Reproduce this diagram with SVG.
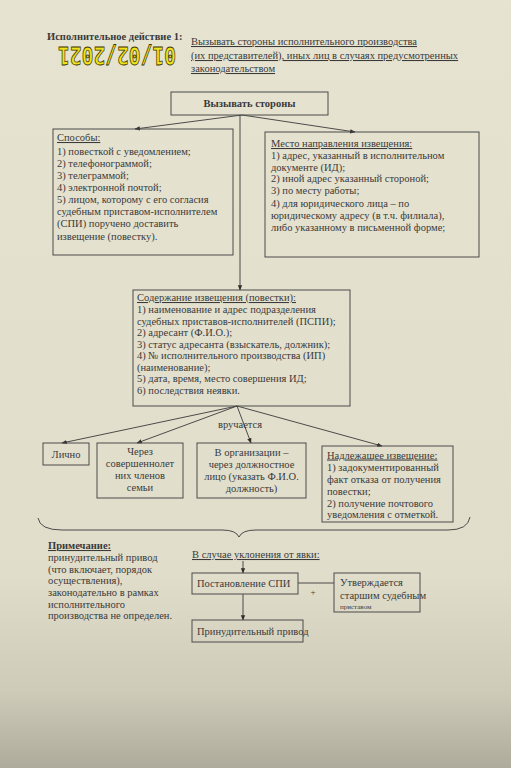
<svg xmlns="http://www.w3.org/2000/svg" width="511" height="768" viewBox="0 0 511 768">
<defs>
<linearGradient id="bg" x1="0" y1="0" x2="0" y2="1">
<stop offset="0" stop-color="#e6e3d1"/>
<stop offset="0.75" stop-color="#e1ddcb"/>
<stop offset="0.9" stop-color="#cfcbb9"/>
<stop offset="1" stop-color="#aeab9c"/>
</linearGradient>
<marker id="ah" viewBox="0 0 10 10" refX="9" refY="5" markerWidth="6" markerHeight="6" orient="auto-start-reverse">
<path d="M0,1 L10,5 L0,9 z" fill="#2e2e2e"/>
</marker>
<style>
.t{font-family:"Liberation Serif","Times New Roman",serif;font-size:10.5px;fill:#3a3a3a}
.b{font-weight:bold}
.u{text-decoration:underline}
.c{text-anchor:middle}
.box{fill:none;stroke:#4a4a4a;stroke-width:1}
.ln{fill:none;stroke:#3a3a3a;stroke-width:0.9}
</style>
</defs>
<rect x="0" y="0" width="511" height="768" fill="url(#bg)"/>

<g id="header">
<text class="t b" x="47" y="40">Исполнительное действие 1:</text>
<text class="t u" x="191" y="45">Вызывать стороны исполнительного производства</text>
<text class="t u" x="191" y="59">(их представителей), иных лиц в случаях предусмотренных</text>
<text class="t u" x="191" y="72">законодательством</text>
</g>

<g id="datestamp">
<text x="117" y="63" transform="rotate(180 117 55)" text-anchor="middle" textLength="118" lengthAdjust="spacingAndGlyphs" style="font-family:'DejaVu Sans Mono',monospace;font-size:24px;font-weight:bold;fill:#f0e21c;stroke:#3d3500;stroke-width:0.8">01/02/2021</text>
</g>

<g id="connectors">
<line class="ln" x1="242" y1="115" x2="135" y2="129" marker-end="url(#ah)"/>
<line class="ln" x1="242" y1="115" x2="355" y2="132" marker-end="url(#ah)"/>
<line class="ln" x1="240" y1="115" x2="240" y2="290" marker-end="url(#ah)"/>
<line class="ln" x1="237" y1="406" x2="62" y2="443" marker-end="url(#ah)"/>
<line class="ln" x1="237" y1="406" x2="137" y2="443" marker-end="url(#ah)"/>
<line class="ln" x1="237" y1="406" x2="251" y2="443" marker-end="url(#ah)"/>
<line class="ln" x1="237" y1="406" x2="382" y2="446" marker-end="url(#ah)"/>
<line class="ln" x1="243" y1="561" x2="243" y2="573" marker-end="url(#ah)"/>
<line class="ln" x1="243" y1="594" x2="243" y2="620" marker-end="url(#ah)"/>
<line class="ln" x1="298" y1="583" x2="334" y2="583"/>
<path class="ln" d="M38,518 Q40,530 62,530 L222,530 Q236,530 239,537 Q242,530 256,530 L448,530 Q468,530 470,517"/>
<text class="t c" x="240" y="428">вручается</text>
<text class="t c" x="313" y="595" style="font-size:9px">+</text>
</g>

<g id="n-call">
<rect class="box" x="171" y="92" width="157" height="23"/>
<text class="t b c" x="249.5" y="107">Вызывать стороны</text>
</g>

<g id="n-ways">
<rect class="box" x="53" y="129" width="180" height="126"/>
<text class="t u" x="57" y="141">Способы:</text>
<text class="t" x="57" y="155">1) повесткой с уведомлением;</text>
<text class="t" x="57" y="167">2) телефонограммой;</text>
<text class="t" x="57" y="179">3) телеграммой;</text>
<text class="t" x="57" y="191">4) электронной почтой;</text>
<text class="t" x="57" y="203">5) лицом, которому с его согласия</text>
<text class="t" x="57" y="215">судебным приставом-исполнителем</text>
<text class="t" x="57" y="227">(СПИ) поручено доставить</text>
<text class="t" x="57" y="240">извещение (повестку).</text>
</g>

<g id="n-place">
<rect class="box" x="265" y="132" width="214" height="125"/>
<text class="t u" x="271" y="147">Место направления извещения:</text>
<text class="t" x="271" y="159">1) адрес, указанный в исполнительном</text>
<text class="t" x="271" y="171">документе (ИД);</text>
<text class="t" x="271" y="182">2) иной адрес указанный стороной;</text>
<text class="t" x="271" y="194">3) по месту работы;</text>
<text class="t" x="271" y="207">4) для юридического лица – по</text>
<text class="t" x="271" y="219">юридическому адресу (в т.ч. филиала),</text>
<text class="t" x="271" y="231">либо указанному в письменной форме;</text>
</g>

<g id="n-content">
<rect class="box" x="133" y="290" width="217" height="116"/>
<text class="t u" x="137" y="301">Содержание извещения (повестки):</text>
<text class="t" x="137" y="313">1) наименование и адрес подразделения</text>
<text class="t" x="137" y="324.5">судебных приставов-исполнителей (ПСПИ);</text>
<text class="t" x="137" y="336">2) адресант (Ф.И.О.);</text>
<text class="t" x="137" y="347.5">3) статус адресанта (взыскатель, должник);</text>
<text class="t" x="137" y="359">4) № исполнительного производства (ИП)</text>
<text class="t" x="137" y="370.5">(наименование);</text>
<text class="t" x="137" y="382">5) дата, время, место совершения ИД;</text>
<text class="t" x="137" y="393.5">6) последствия неявки.</text>
</g>

<g id="n-personal">
<rect class="box" x="43" y="443" width="46" height="22"/>
<text class="t c" x="66" y="458">Лично</text>
</g>

<g id="n-family">
<rect class="box" x="97" y="443" width="86" height="55"/>
<text class="t c" x="140" y="455">Через</text>
<text class="t c" x="140" y="467">совершеннолет</text>
<text class="t c" x="140" y="479">них членов</text>
<text class="t c" x="140" y="491">семьи</text>
</g>

<g id="n-org">
<rect class="box" x="197" y="443" width="109" height="55"/>
<text class="t c" x="251.5" y="456">В организации –</text>
<text class="t c" x="251.5" y="468">через должностное</text>
<text class="t c" x="251.5" y="480">лицо (указать Ф.И.О.</text>
<text class="t c" x="251.5" y="492">должность)</text>
</g>

<g id="n-proper">
<rect class="box" x="322" y="446" width="131" height="76"/>
<text class="t u" x="327" y="458.5">Надлежащее извещение:</text>
<text class="t" x="327" y="470.5">1) задокументированный</text>
<text class="t" x="327" y="482.5">факт отказа от получения</text>
<text class="t" x="327" y="494.5">повестки;</text>
<text class="t" x="327" y="506.5">2) получение почтового</text>
<text class="t" x="327" y="517.5">уведомления с отметкой.</text>
</g>

<g id="n-note">
<text class="t b u" x="48" y="549">Примечание:</text>
<text class="t" x="48" y="561">принудительный привод</text>
<text class="t" x="48" y="572.5">(что включает, порядок</text>
<text class="t" x="48" y="584">осуществления),</text>
<text class="t" x="48" y="596">законодательно в рамках</text>
<text class="t" x="48" y="607.5">исполнительного</text>
<text class="t" x="48" y="619">производства не определен.</text>
</g>

<g id="n-evasion">
<text class="t u" x="192" y="558">В случае уклонения от явки:</text>
</g>

<g id="n-decree">
<rect class="box" x="192" y="573" width="106" height="21"/>
<text class="t" x="197" y="587">Постановление СПИ</text>
</g>

<g id="n-approve">
<rect class="box" x="334" y="573" width="86" height="39"/>
<text class="t" x="340" y="586">Утверждается</text>
<text class="t" x="340" y="599">старшим судебным</text>
<text class="t" x="340" y="609" style="font-size:7px">приставом</text>
</g>

<g id="n-drive">
<rect class="box" x="192" y="620" width="111" height="22"/>
<text class="t" x="197" y="635">Принудительный привод</text>
</g>
</svg>
